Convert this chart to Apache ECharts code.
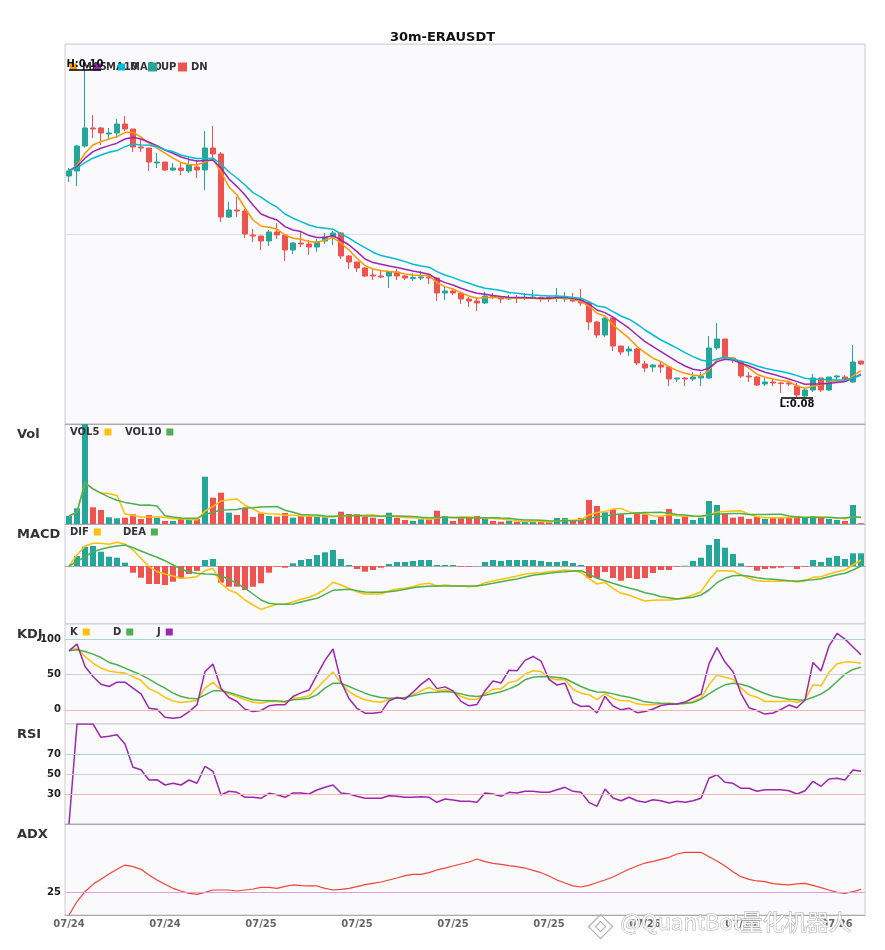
<!DOCTYPE html>
<html>
<head>
<meta charset="utf-8">
<title>30m-ERAUSDT</title>
<script src="https://cdn.jsdelivr.net/npm/echarts@6.0.0/dist/echarts.min.js"></script>
<style>
html, body { margin: 0; padding: 0; background: #fff; }
#main { width: 885px; height: 950px; }
</style>
</head>
<body>
<div id="main"></div>
<script>
// 30m K线：开 收 低 高
var opens = [0.0934,0.09365,0.0949,0.0958,0.0958,0.0955,0.09555,0.096,0.09575,0.09485,
0.0948,0.09405,0.0941,0.0937,0.0938,0.09365,0.09385,0.0937,0.0948,0.0945,
0.09135,0.0917,0.09165,0.09045,0.0904,0.09015,0.0906,0.09045,0.0897,0.09005,
0.09,0.08985,0.09015,0.09035,0.09055,0.0894,0.0891,0.0888,0.08845,0.0884,
0.0884,0.0886,0.0884,0.08828,0.0883,0.08835,0.0883,0.08755,0.08765,0.08755,
0.08725,0.08715,0.08705,0.08738,0.08735,0.08725,0.08733,0.08728,0.0873,0.08733,
0.08733,0.0873,0.08725,0.08733,0.0872,0.08705,0.0861,0.08545,0.0863,0.0849,
0.08465,0.08475,0.084,0.08385,0.08395,0.08385,0.08325,0.0833,0.08325,0.0833,
0.0833,0.0848,0.08525,0.0843,0.0841,0.0834,0.08335,0.083,0.0831,0.08305,
0.08305,0.0829,0.0824,0.0827,0.0833,0.0827,0.08335,0.08335,0.0831,0.08415];
var closes = [0.09365,0.0949,0.0958,0.09575,0.09555,0.09555,0.096,0.09575,0.09485,0.0948,
0.0941,0.0941,0.0937,0.0938,0.09368,0.09395,0.0937,0.0948,0.0945,0.09135,
0.0917,0.09165,0.0905,0.0904,0.09015,0.0906,0.09045,0.0897,0.09005,0.09,
0.08985,0.0901,0.09035,0.09055,0.0894,0.0891,0.0888,0.0884,0.0884,0.08835,
0.0886,0.0884,0.0883,0.08833,0.08835,0.0883,0.08755,0.08765,0.08755,0.08725,
0.08715,0.08705,0.0874,0.08733,0.08725,0.0873,0.08728,0.08733,0.08735,0.08728,
0.08728,0.08735,0.08733,0.08715,0.08705,0.0861,0.08545,0.0863,0.0849,0.0846,
0.08475,0.08405,0.0838,0.08395,0.08385,0.08325,0.0833,0.08325,0.08335,0.0834,
0.0848,0.08525,0.0843,0.08425,0.0834,0.08335,0.08295,0.0831,0.08305,0.08303,
0.083,0.08245,0.0827,0.0833,0.0827,0.08335,0.0834,0.08325,0.0841,0.084];
var lows = [0.0931,0.0929,0.09482,0.0953,0.09495,0.0952,0.0953,0.09565,0.0946,0.0946,
0.09365,0.0938,0.09365,0.09365,0.09345,0.09355,0.0933,0.0927,0.0942,0.0911,
0.0913,0.09135,0.0903,0.0901,0.0897,0.0899,0.09025,0.08915,0.0895,0.08985,
0.08945,0.0896,0.09,0.08995,0.08925,0.08875,0.0886,0.08835,0.0882,0.0883,
0.0878,0.0882,0.0882,0.08815,0.0882,0.088,0.08715,0.0872,0.08745,0.087,
0.08685,0.08665,0.087,0.08725,0.08705,0.0872,0.08705,0.0872,0.08728,0.0871,
0.0871,0.0871,0.0871,0.08708,0.0869,0.0857,0.0853,0.08535,0.08465,0.08445,
0.0844,0.08395,0.0836,0.0836,0.08355,0.0829,0.0831,0.0829,0.08315,0.0829,
0.08325,0.0847,0.08425,0.08405,0.0833,0.0831,0.0829,0.0829,0.0829,0.08255,
0.0829,0.08233,0.08235,0.0826,0.0826,0.08265,0.0832,0.0831,0.08305,0.08395];
var highs = [0.0938,0.09495,0.0987,0.09645,0.09585,0.0958,0.09625,0.0964,0.09575,0.09525,
0.0948,0.09455,0.0941,0.09405,0.09405,0.09435,0.0942,0.09565,0.0959,0.0946,
0.0921,0.09235,0.09175,0.09075,0.0904,0.0907,0.09105,0.09045,0.0901,0.0906,
0.0902,0.09025,0.09055,0.09065,0.0906,0.08945,0.0891,0.08885,0.0888,0.0887,
0.08865,0.08875,0.08845,0.08855,0.08865,0.08845,0.08835,0.08785,0.0878,0.0876,
0.08735,0.08735,0.0876,0.08755,0.0874,0.08745,0.08745,0.08755,0.0877,0.08738,
0.0874,0.0878,0.0876,0.08755,0.08775,0.0871,0.08615,0.0863,0.08635,0.0849,
0.0849,0.0848,0.08415,0.084,0.08415,0.0839,0.0833,0.08335,0.0836,0.0836,
0.0854,0.08605,0.08525,0.08435,0.08415,0.0836,0.0834,0.0833,0.0833,0.0831,
0.08315,0.08305,0.08275,0.0835,0.0833,0.08335,0.08345,0.08345,0.08495,0.08415];

// 均线
var ma5 = [0.09367,0.09392,0.09454,0.09495,0.09512,0.09525,0.09537,0.09557,0.09559,0.09534,
0.09504,0.09479,0.09454,0.09429,0.09408,0.09398,0.09395,0.0941,0.09423,0.0936,
0.09285,0.09245,0.0918,0.0912,0.0909,0.09084,0.09074,0.09045,0.09029,0.09024,
0.09012,0.09009,0.0902,0.09032,0.09004,0.0897,0.08929,0.08892,0.08875,0.08867,
0.08862,0.08859,0.0885,0.08845,0.08842,0.08842,0.08807,0.08787,0.08775,0.08757,
0.0874,0.08729,0.08732,0.08734,0.08732,0.08729,0.08729,0.08729,0.08729,0.08725,
0.08725,0.08729,0.08729,0.08724,0.08712,0.0869,0.08654,0.0864,0.08595,0.08562,
0.08529,0.08487,0.08457,0.08429,0.08412,0.08387,0.08367,0.08354,0.08345,0.0834,
0.0837,0.0842,0.08434,0.08429,0.08404,0.08379,0.08349,0.08334,0.08325,0.08317,
0.08312,0.0829,0.08279,0.0829,0.08295,0.08312,0.08315,0.08312,0.0834,0.08367];
var ma10 = [0.09367,0.09387,0.09429,0.09462,0.09479,0.09492,0.09504,0.09525,0.09534,0.09525,
0.09509,0.09492,0.0947,0.09454,0.09435,0.09423,0.09415,0.09418,0.0942,0.0938,
0.09325,0.09287,0.09245,0.09195,0.0915,0.09134,0.0912,0.09087,0.0907,0.09062,
0.09042,0.09032,0.09032,0.09042,0.0902,0.08995,0.08962,0.08925,0.08907,0.08899,
0.0889,0.08882,0.08874,0.08865,0.08857,0.08849,0.08824,0.08807,0.08795,0.08779,
0.08765,0.08754,0.08749,0.08742,0.08737,0.08734,0.08732,0.08732,0.0873,0.08729,
0.08729,0.08732,0.08732,0.08729,0.0872,0.087,0.0867,0.08657,0.08634,0.08607,
0.08579,0.08545,0.08512,0.08487,0.08462,0.08437,0.08412,0.0839,0.08374,0.08367,
0.08379,0.08412,0.08424,0.0842,0.08404,0.0839,0.08374,0.08359,0.08349,0.08337,
0.08325,0.08312,0.08299,0.083,0.083,0.08304,0.08307,0.08312,0.08329,0.08349];
var ma20 = [0.09367,0.0938,0.09407,0.09429,0.09445,0.09459,0.09467,0.09487,0.095,0.09495,
0.09494,0.09487,0.0947,0.09462,0.09445,0.09435,0.09428,0.09428,0.09429,0.094,
0.0936,0.0933,0.09295,0.09257,0.09234,0.09207,0.09184,0.0915,0.09129,0.09112,
0.09095,0.09084,0.09079,0.09074,0.0905,0.09029,0.09004,0.08982,0.08959,0.08942,
0.08934,0.08924,0.08912,0.08899,0.0889,0.08884,0.08862,0.08845,0.08832,0.08817,
0.08804,0.0879,0.08779,0.08774,0.08767,0.08757,0.08754,0.08749,0.08745,0.08742,
0.0874,0.0874,0.08737,0.08732,0.08729,0.08712,0.0869,0.08684,0.08662,0.0864,
0.08624,0.08599,0.0857,0.08545,0.0852,0.085,0.08479,0.08457,0.08437,0.0842,
0.08412,0.08425,0.08434,0.08424,0.08415,0.08404,0.0839,0.08379,0.0837,0.08362,
0.08354,0.08342,0.08329,0.08324,0.08324,0.0832,0.0832,0.0832,0.08329,0.08345];

// 成交量
var volumes = [80000,157000,1000000,167000,140000,67000,57000,63000,97000,50000,
90000,63000,30000,30000,50000,47000,50000,473000,263000,313000,
113000,90000,163000,70000,107000,80000,73000,110000,63000,80000,
80000,73000,67000,50000,123000,100000,100000,73000,63000,50000,
113000,63000,40000,30000,47000,47000,133000,80000,30000,57000,
63000,80000,50000,30000,23000,33000,23000,23000,23000,23000,
17000,60000,60000,30000,60000,240000,180000,117000,147000,97000,
63000,117000,97000,40000,73000,150000,50000,73000,40000,63000,
230000,190000,107000,63000,73000,50000,73000,50000,67000,67000,
63000,80000,63000,80000,63000,50000,40000,30000,190000,7000];
var vol5 = [80000,118500,412000,351000,309000,306000,286000,99000,85000,67000,
71000,73000,66000,53000,53000,44000,41000,130000,177000,229000,
242000,250000,188000,150000,109000,102000,99000,88000,87000,81000,
81000,81000,73000,70000,79000,83000,88000,89000,92000,77000,
80000,72000,66000,59000,59000,45000,59000,67000,67000,69000,
73000,62000,56000,56000,49000,43000,32000,26000,25000,25000,
22000,29000,37000,38000,45000,90000,114000,125000,149000,156000,
121000,108000,104000,83000,78000,95000,82000,77000,77000,75000,
91000,119000,126000,131000,133000,97000,73000,62000,63000,61000,
64000,65000,68000,71000,70000,67000,59000,53000,75000,63000];
var vol10 = [80000,119000,412000,351000,309000,269000,238000,216000,203000,188000,
189000,179000,82000,69000,60000,58000,57000,98000,115000,141000,
143000,146000,159000,163000,169000,172000,175000,138000,118000,95000,
92000,90000,80000,78000,80000,82000,85000,81000,81000,78000,
81000,80000,78000,76000,68000,63000,66000,67000,63000,64000,
59000,61000,62000,62000,59000,58000,47000,41000,41000,37000,
33000,31000,32000,32000,35000,56000,72000,81000,93000,101000,
105000,111000,115000,116000,117000,108000,95000,91000,80000,77000,
93000,101000,102000,104000,104000,94000,96000,94000,97000,97000,
80000,69000,65000,67000,66000,66000,62000,60000,73000,67000];

// MACD
var macdDif = [0,0.00011,0.0002,0.000227,0.000227,0.000217,0.000237,0.00022,0.00016,0.000077,
-0.000007,-0.000057,-0.00008,-0.0001,-0.000123,-0.000117,-0.000107,-0.000047,-0.000023,-0.000173,
-0.00024,-0.000273,-0.00034,-0.00039,-0.000433,-0.000407,-0.000383,-0.00038,-0.000357,-0.000333,
-0.000313,-0.00028,-0.000233,-0.000163,-0.00019,-0.000223,-0.000257,-0.00028,-0.00028,-0.00028,
-0.000247,-0.00023,-0.000223,-0.000207,-0.000183,-0.000173,-0.0002,-0.00019,-0.000197,-0.0002,
-0.000207,-0.0002,-0.000167,-0.00015,-0.000133,-0.000117,-0.0001,-0.00008,-0.000073,-0.000067,
-0.000057,-0.00005,-0.00004,-0.000047,-0.000063,-0.000127,-0.00018,-0.000163,-0.000223,-0.000273,
-0.00029,-0.000323,-0.00035,-0.000343,-0.00034,-0.00034,-0.000333,-0.000313,-0.00029,-0.000257,
-0.00014,-0.000047,-0.000047,-0.00005,-0.00009,-0.000123,-0.000147,-0.000153,-0.000153,-0.000153,
-0.000147,-0.00016,-0.00015,-0.000113,-0.000107,-0.00008,-0.000057,-0.00004,0.00001,0.00006];
var macdDea = [0,0.000043,0.000093,0.000143,0.000167,0.000187,0.0002,0.00021,0.000183,0.00015,
0.000117,0.000087,0.000053,0.00001,-0.00003,-0.00006,-0.000073,-0.00008,-0.000083,-0.0001,
-0.000133,-0.000173,-0.000223,-0.00028,-0.00034,-0.000373,-0.000383,-0.000383,-0.00038,-0.00036,
-0.00034,-0.000323,-0.000283,-0.000243,-0.000237,-0.000233,-0.000247,-0.00026,-0.000263,-0.000263,
-0.000257,-0.000247,-0.000233,-0.000217,-0.000207,-0.000203,-0.0002,-0.0002,-0.0002,-0.0002,
-0.0002,-0.0002,-0.000187,-0.000173,-0.000157,-0.000143,-0.00013,-0.00011,-0.000093,-0.000083,
-0.000073,-0.000063,-0.000057,-0.00005,-0.000047,-0.00008,-0.000123,-0.000147,-0.000173,-0.000197,
-0.00022,-0.00024,-0.000267,-0.000283,-0.000307,-0.000317,-0.00033,-0.000323,-0.000313,-0.00029,
-0.00024,-0.000167,-0.000123,-0.000097,-0.000093,-0.000103,-0.000117,-0.000127,-0.000133,-0.00014,
-0.000147,-0.000153,-0.000143,-0.000137,-0.000127,-0.000107,-0.000087,-0.000073,-0.00004,0];
var macdHist = [0,0.0001,0.000193,0.0002,0.000143,0.000093,0.000083,0.000033,-0.000067,-0.000117,
-0.00018,-0.00018,-0.00019,-0.000157,-0.000123,-0.00008,-0.00005,0.00006,0.00007,-0.000167,
-0.000207,-0.000207,-0.00024,-0.000207,-0.000173,-0.000067,-0.000007,-0.000017,0.000027,0.00006,
0.00007,0.00011,0.000137,0.00016,0.00007,0.00001,-0.00003,-0.000057,-0.00004,-0.000017,
0.00002,0.00004,0.00004,0.00005,0.00006,0.00006,0.00001,0.00001,0.00001,-0.000007,
-0.000007,0,0.00004,0.00006,0.00005,0.00006,0.00006,0.00006,0.00006,0.00005,
0.00004,0.00004,0.00005,0.00003,0.00001,-0.00012,-0.00012,-0.00006,-0.00012,-0.000147,
-0.00012,-0.00013,-0.00012,-0.00007,-0.00004,-0.00004,-0.000007,0.000003,0.00005,0.000083,
0.00021,0.00027,0.000183,0.00012,0.000027,-0.000007,-0.000047,-0.00003,-0.000023,-0.000017,
0,-0.00003,-0.000007,0.00006,0.00004,0.000083,0.0001,0.00007,0.000127,0.000127];

// KDJ
var kdjK = [83.5,87,75.5,66,59,55,53.3,52,47,41.5,
29.7,25,17.5,12.7,10.4,11.8,13.2,30.7,39,28.3,
22.6,18.9,14.2,10.8,9.4,11.8,11.8,10.8,16.5,17.5,
19.8,30.7,42.5,53.3,37.7,25.9,18.9,14.2,11.8,10.8,
15.1,17.5,16.5,21.2,26.9,31.6,26.9,28.3,25.9,18.9,
15.1,15.1,22.6,29.2,29.7,38.7,41,50.5,55.2,54.2,
44.8,42.5,42.5,29.2,23.6,21.5,14.5,22.6,16.5,12.7,
12.7,8.5,7.1,7.1,8.5,9.4,8,9.4,11.8,16.5,
35.4,49.5,46.2,43.4,30.7,21.2,17.9,11.8,11.8,11.8,
12.7,10.4,14.2,35.4,34,52.8,65.1,67.5,67.5,66];
var kdjD = [83.5,85,82.5,78.8,74,67,63.7,59,54.2,49.5,
43.4,36.8,30.7,23.6,18.9,16.5,15.6,21.2,26.9,26.9,
24.5,21.2,17.5,14.2,13.2,12.7,12.7,11.8,14.2,15.1,
16.5,21.2,30.7,37.7,37.7,33,28.3,23.6,19.8,17.5,
16.5,16.5,17.5,19.8,22.6,24.5,25,25.9,25,22.6,
19.8,18.9,20.8,23.1,25.5,29.7,34.4,42.5,46.2,47.2,
46.7,45.8,44.3,38.7,33,28.4,25.3,25,22.6,19.8,
17.9,15.1,11.3,9.9,9.4,9,8.5,9,10.4,15.1,
22.6,29.7,35.4,37.7,36.3,33,27.8,23.1,19.3,17,
15.1,14.2,13.7,17.9,22.2,29.7,40.1,50.5,57.1,60.4];
var kdjJ = [83.5,93,61.3,47.2,36.3,33,39.2,39.2,30.7,22.6,
2.4,0.9,-10.4,-11.8,-10.4,-2.4,7.1,54.2,64.6,30.7,
17.5,11.8,0.9,-2.4,-0.9,5.7,7.1,7.1,18.9,24,
28,49.5,70,86,40,16,2,-4.7,-4.7,-3.5,
12.7,17.5,15,25,36,44.5,30,32.5,26.8,12,
5.7,7.7,27,40.8,37.9,56,55.4,70,75.5,69,
43,35,37.6,10.3,4.7,5.5,-4.5,19,5.5,0,
2.4,-4,-2.3,1.2,6.2,8,8.2,11,16.8,22,
65,88,67.6,54,23,3,-1,-6,-4.5,0.7,
6.8,3,14,67,55,90,108,100,89,78];

// RSI
var rsi = [0,100,100,100,86.7,87.7,89.3,80,56.7,54.3,
44,44.3,39,40.7,39,44,40.7,57.7,52.7,29,
32.7,31.7,26.7,26.7,25.7,30.7,29.3,26.7,31,31,
30,34,36.7,39,31,30,27.7,25.7,25.7,25.7,
28.3,27.7,26.7,26.7,27.3,26.7,21.7,25,24,22.7,
22.7,21.7,31,30,27.7,31.7,31,32.7,32.7,31.7,
31.7,34.3,36.7,32.7,31.7,21.7,17.7,35,26,23.3,
26.7,23.3,21.7,24.3,23.3,21,22.7,21.7,23.3,25.7,
45.7,49.3,41.7,40.7,35.7,35.7,32.7,34.3,34.3,34.3,
33.3,30,33.3,42.7,37.7,45,45.7,44,54,52.7];

// ADX
var adx = [0,14.6,25.6,33.7,39.2,45,50.2,54.9,53.1,50.2,
44,38.5,33.7,29.3,26.4,23.8,22.7,24.9,27.5,27.5,
27.5,26.4,27.5,28.6,30.4,30.4,29.3,31.5,33,32.2,
31.9,31.9,29.3,27.5,28.2,29.3,31.1,33.3,34.8,36.3,
38.5,40.7,43.2,44.7,44.7,46.5,49.5,51.6,53.8,56,
58.2,61.5,58.6,56.8,55.7,54.2,53.1,51.6,49.1,46.5,
42.9,38.5,35.2,32,30.8,32.5,35.7,38.5,41.8,46.2,
50.2,53.8,57.1,59,61.2,63.4,67,68.9,68.9,68.9,
64.1,59.3,53.8,47.6,42.1,39.2,37.4,36.6,34.4,33.7,
33,34.1,34.8,32.6,30,27.5,24.9,23.8,25.6,28.2];

var kdjTicks = [0, 50, 100];
var rsiTicks = [30, 50, 70];
var adxTicks = [25];

var UP = '#26a69a';
var DN = '#ef5350';
var FONT = 'DejaVu Sans';

// 时间轴：从 07/24 14:00 开始，每根 30 分钟
function pad(n) { return n < 10 ? '0' + n : '' + n; }
var startTime = new Date(2024, 6, 24, 14, 0);
var dates = [];
for (var i = 0; i < opens.length; i++) {
    var t = new Date(startTime.getTime() + i * 30 * 60 * 1000);
    dates.push(pad(t.getMonth() + 1) + '/' + pad(t.getDate()) + ' ' + pad(t.getHours()) + ':' + pad(t.getMinutes()));
}

var upData = [], dnData = [], volData = [], histData = [];
var hiIdx = 0, loIdx = 0;
for (var i = 0; i < opens.length; i++) {
    var isUp = closes[i] >= opens[i];
    var item = [opens[i], closes[i], lows[i], highs[i]];
    upData.push(isUp ? item : ['-', '-', '-', '-']);
    dnData.push(isUp ? ['-', '-', '-', '-'] : item);
    volData.push({ value: volumes[i], itemStyle: { color: isUp ? UP : DN } });
    histData.push({ value: macdHist[i], itemStyle: { color: macdHist[i] >= 0 ? UP : DN } });
    if (highs[i] > highs[hiIdx]) hiIdx = i;
    if (lows[i] < lows[loIdx]) loIdx = i;
}
var hiVal = highs[hiIdx], loVal = lows[loIdx];

var chart = echarts.init(document.getElementById('main'));

var gridTops = [44, 424, 524, 624, 724, 824];
var gridHeights = [380, 100, 100, 100, 100, 91];
var grids = [], xAxes = [];
for (var g = 0; g < 6; g++) {
    grids.push({
        left: 65, right: 20, top: gridTops[g], height: gridHeights[g],
        show: true, backgroundColor: '#fafafc', borderColor: '#cccccc', borderWidth: 1
    });
    xAxes.push({
        type: 'category', gridIndex: g, data: dates, boundaryGap: true,
        axisLine: { show: true, lineStyle: { color: '#aaaaaa' } },
        axisTick: { show: false },
        splitLine: { show: false },
        axisLabel: {
            show: g === 5, interval: 11, color: '#666', fontWeight: 'bold',
            fontSize: 10, fontFamily: FONT, margin: 4,
            formatter: function (v) { return v.slice(0, 5); }
        }
    });
}

function refLine(v, color) {
    return { yAxis: v, lineStyle: { color: color, width: 1, type: 'solid' } };
}
function lineSeries(name, data, color, xi, yi, extra) {
    var s = {
        name: name, type: 'line', data: data, xAxisIndex: xi, yAxisIndex: yi,
        showSymbol: false, symbol: 'none', lineStyle: { color: color, width: 1.5 },
        itemStyle: { color: color }, z: 3
    };
    if (extra) for (var k in extra) s[k] = extra[k];
    return s;
}
function yAxis(gi, min, max, ticks) {
    var a = { type: 'value', gridIndex: gi, min: min, max: max,
        axisLine: { show: false }, axisTick: { show: false }, splitLine: { show: false } };
    if (ticks) {
        a.axisLabel = { show: true, customValues: ticks, color: '#222', fontWeight: 'bold',
            fontSize: 10, fontFamily: FONT, margin: 4 };
    } else {
        a.axisLabel = { show: false };
    }
    return a;
}

// 每个图例单独摆放，位置照原图
var legendText = { fontSize: 10, fontWeight: 'bold', color: '#333', fontFamily: FONT };
function legendAt(name, left, top, align) {
    return { left: left, top: top, padding: 0, align: align || 'left', itemWidth: 7, itemHeight: 7,
             icon: 'rect', textStyle: legendText, data: [name] };
}

var option = {
    animation: false,
    backgroundColor: '#ffffff',
    title: {
        text: '30m-ERAUSDT', left: 'center', top: 26,
        textStyle: { fontSize: 13, fontWeight: 'bold', color: '#111', fontFamily: FONT }
    },
    legend: [
        legendAt('MA5', 70, 62), legendAt('MA10', 94, 62), legendAt('MA20', 118, 62),
        legendAt('UP', 148, 62), legendAt('DN', 178, 62),
        legendAt('VOL5', 70, 427, 'right'), legendAt('VOL10', 125, 427, 'right'),
        legendAt('DIF', 70, 527, 'right'), legendAt('DEA', 123, 527, 'right'),
        legendAt('K', 70, 627, 'right'), legendAt('D', 113, 627, 'right'), legendAt('J', 157, 627, 'right')
    ],
    grid: grids,
    xAxis: xAxes,
    yAxis: [
        yAxis(0, 0.081, 0.1),
        { type: 'value', gridIndex: 0, min: 0, max: 2, interval: 1,
          axisLabel: { show: false }, axisLine: { show: false }, axisTick: { show: false },
          splitLine: { show: true, lineStyle: { color: '#dcdce8', width: 1 } } },
        yAxis(1, 0, 1000000),
        yAxis(2, -0.00058, 0.00042),
        yAxis(3, -20, 121.4, kdjTicks),
        yAxis(4, 0, 100, rsiTicks),
        yAxis(5, 0, 100, adxTicks)
    ],
    graphic: [
        { type: 'text', left: 17, top: 428, style: { text: 'Vol', font: 'bold 13px "DejaVu Sans"', fill: '#333' } },
        { type: 'text', left: 17, top: 528, style: { text: 'MACD', font: 'bold 13px "DejaVu Sans"', fill: '#333' } },
        { type: 'text', left: 17, top: 628, style: { text: 'KDJ', font: 'bold 13px "DejaVu Sans"', fill: '#333' } },
        { type: 'text', left: 17, top: 728, style: { text: 'RSI', font: 'bold 13px "DejaVu Sans"', fill: '#333' } },
        { type: 'text', left: 17, top: 828, style: { text: 'ADX', font: 'bold 13px "DejaVu Sans"', fill: '#333' } },
        { type: 'group', left: 588, top: 914, z: 100, children: [
            { type: 'polygon', shape: { points: [[12, 0], [24, 12], [12, 24], [0, 12]] },
              style: { fill: 'rgba(255,255,255,0.6)', stroke: 'rgba(170,170,170,0.9)', lineWidth: 1.2 } },
            { type: 'polygon', shape: { points: [[12, 7], [17, 12], [12, 17], [7, 12]] },
              style: { fill: 'rgba(255,255,255,0.8)', stroke: 'rgba(170,170,170,0.9)', lineWidth: 1.2 } }
        ] },
        { type: 'text', left: 620, top: 910, z: 100,
          style: { text: '@QuantBot量化机器人', font: '22px "Noto Sans CJK SC"',
                   fill: 'rgba(255,255,255,0.85)', stroke: 'rgba(165,165,165,0.9)', lineWidth: 1 } }
    ],
    series: [
        {
            name: 'UP', type: 'candlestick', data: upData, xAxisIndex: 0, yAxisIndex: 0, barWidth: 6,
            itemStyle: { color: UP, color0: UP, borderColor: UP, borderColor0: UP, borderWidth: 1 }
        },
        {
            name: 'DN', type: 'candlestick', data: dnData, xAxisIndex: 0, yAxisIndex: 0, barWidth: 6,
            itemStyle: { color: DN, color0: DN, borderColor: DN, borderColor0: DN, borderWidth: 1 },
            markLine: {
                silent: true, symbol: ['none', 'none'],
                lineStyle: { color: '#000', width: 1.5, type: 'solid' },
                data: [
                    [{ coord: [Math.max(hiIdx - 2, 0), hiVal],
                       label: { show: true, position: 'insideMiddleTop', formatter: 'H:' + hiVal.toFixed(2),
                                color: '#111', fontWeight: 'bold', fontSize: 10, fontFamily: FONT, distance: 1 } },
                     { coord: [hiIdx + 2, hiVal] }],
                    [{ coord: [loIdx - 2, loVal],
                       label: { show: true, position: 'insideMiddleBottom', formatter: 'L:' + loVal.toFixed(2),
                                color: '#111', fontWeight: 'bold', fontSize: 10, fontFamily: FONT, distance: 2 } },
                     { coord: [loIdx + 2, loVal] }]
                ]
            }
        },
        lineSeries('MA5', ma5, '#ff9800', 0, 0),
        lineSeries('MA10', ma10, '#9c27b0', 0, 0),
        lineSeries('MA20', ma20, '#00bcd4', 0, 0),

        { name: 'Vol', type: 'bar', data: volData, xAxisIndex: 1, yAxisIndex: 2, barWidth: 6 },
        lineSeries('VOL5', vol5, '#ffc107', 1, 2),
        lineSeries('VOL10', vol10, '#4caf50', 1, 2),

        { name: 'MACD', type: 'bar', data: histData, xAxisIndex: 2, yAxisIndex: 3, barWidth: 6 },
        lineSeries('DIF', macdDif, '#ffc107', 2, 3),
        lineSeries('DEA', macdDea, '#4caf50', 2, 3),

        lineSeries('K', kdjK, '#ffc107', 3, 4, {
            markLine: { silent: true, symbol: ['none', 'none'], label: { show: false },
                data: [refLine(100, '#a3d9d5'), refLine(50, '#cfcfcf'), refLine(0, '#f5b5b5')] }
        }),
        lineSeries('D', kdjD, '#4caf50', 3, 4),
        lineSeries('J', kdjJ, '#9c27b0', 3, 4),

        lineSeries('RSI', rsi, '#9c27b0', 4, 5, {
            markLine: { silent: true, symbol: ['none', 'none'], label: { show: false },
                data: [refLine(70, '#a3d9d5'), refLine(50, '#cfcfcf'), refLine(30, '#f5b5b5')] }
        }),

        lineSeries('ADX', adx, '#f44336', 5, 6, {
            lineStyle: { color: '#f44336', width: 1.2 },
            markLine: { silent: true, symbol: ['none', 'none'], label: { show: false },
                data: [refLine(25, '#dda0dd')] }
        })
    ]
};

chart.setOption(option);
</script>
</body>
</html>
